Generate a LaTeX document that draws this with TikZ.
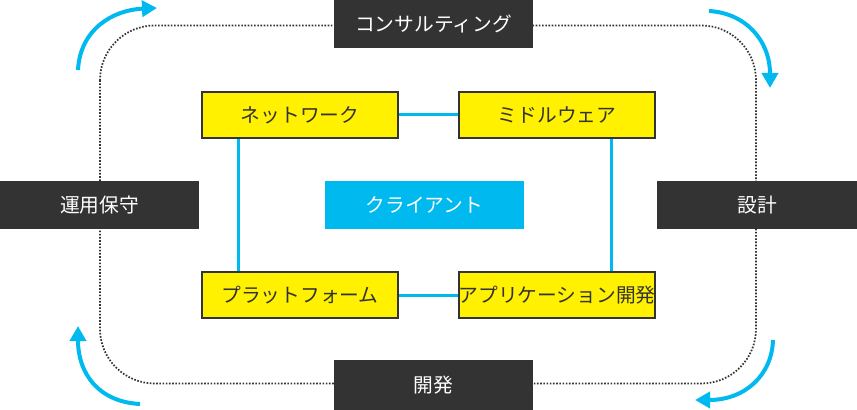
\documentclass[tikz,border=0pt]{standalone}
\usepackage{fontspec}
\setmainfont{Noto Sans CJK JP}
\usetikzlibrary{arrows.meta}
\definecolor{ink}{HTML}{333333}
\definecolor{sky}{HTML}{00B9EF}
\definecolor{lemon}{HTML}{FFF100}
\begin{document}
\begin{tikzpicture}[x=0.75pt,y=-0.75pt,
  jpfont/.style={font=\fontsize{14.8pt}{16pt}\selectfont},
  yelbox/.style={draw=ink,line width=1.5pt,fill=lemon,minimum width=147pt,minimum height=34.5pt,inner sep=0pt,text=ink,jpfont},
  darkbox/.style={fill=ink,text=white,minimum width=149.25pt,minimum height=36pt,inner sep=0pt,jpfont},
  skybox/.style={fill=sky,text=white,minimum width=149.25pt,minimum height=36pt,inner sep=0pt,jpfont},
  link/.style={draw=sky,line width=2.25pt},
  cyclearrow/.style={draw=sky,line width=3pt,-{Triangle[length=11.25pt,width=12pt]}},
  frame/.style={draw=ink,line width=1.3pt,dash pattern=on 1.2pt off 1.2pt,rounded corners=41pt}]
\useasboundingbox (0,0) rectangle (857,410);
% dotted frame
\coordinate (f1) at (100,25.5);
\coordinate (f2) at (756,383.5);
\draw[frame] (f1) rectangle (f2);
% nodes
\node[yelbox] (net) at (300,115) {ネットワーク};
\node[yelbox] (mid) at (557,115) {ミドルウェア};
\node[yelbox] (plat) at (300,295) {プラットフォーム};
\node[yelbox] (app) at (557,295) {アプリケーション開発};
\node[skybox] (cli) at (424.5,205) {クライアント};
\node[darkbox] (cons) at (433.5,24) {コンサルティング};
\node[darkbox,minimum height=37.5pt] (dev) at (433.5,385) {開発};
\node[darkbox] (ops) at (99.5,205) {運用保守};
\node[darkbox,minimum width=150pt] (des) at (757,205) {設計};
% links
\coordinate (lx) at (238.5,0);
\coordinate (rx) at (611,0);
\draw[link] (net.east) -- (mid.west);
\draw[link] (plat.east) -- (app.west);
\draw[link] (net.south -| lx) -- (plat.north -| lx);
\draw[link] (mid.south -| rx) -- (app.north -| rx);
% cycle arrows
\coordinate (a1) at (78,70);   \coordinate (a1e) at (157,8);
\coordinate (a2) at (709,11);  \coordinate (a2e) at (770,88);
\coordinate (a3) at (773,340); \coordinate (a3e) at (695,400);
\coordinate (a4) at (140,404); \coordinate (a4e) at (78,326);
\draw[cyclearrow] (a1) .. controls (80,30) and (112,10) .. (a1e);
\draw[cyclearrow] (a2) .. controls (745,13) and (770,40) .. (a2e);
\draw[cyclearrow] (a3) .. controls (772,375) and (745,400) .. (a3e);
\draw[cyclearrow] (a4) .. controls (100,402) and (78,375) .. (a4e);
\end{tikzpicture}
\end{document}
